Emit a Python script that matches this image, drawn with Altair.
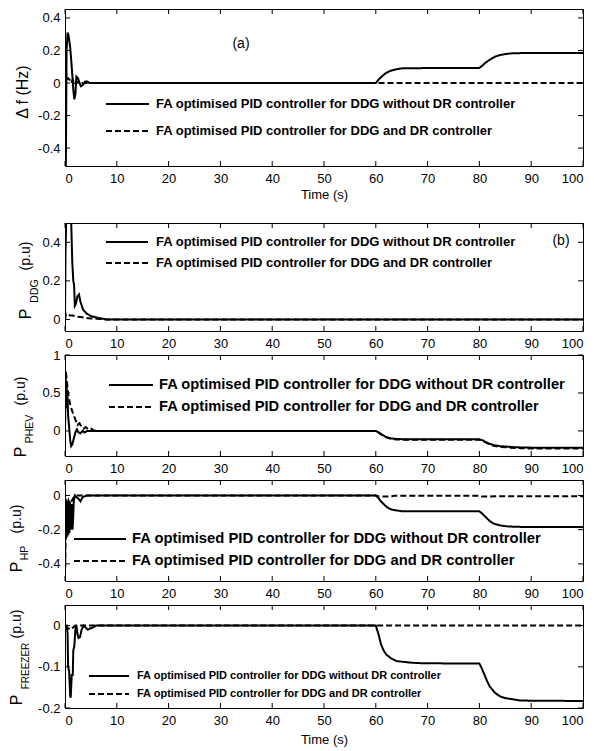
import altair as alt
import pandas as pd

SOLID = "FA optimised PID controller for DDG without DR controller"
DASH = "FA optimised PID controller for DDG and DR controller"

x_ticks = [0, 10, 20, 30, 40, 50, 60, 70, 80, 90, 100]

# ---- panel (a): delta f ----
a_t_solid = [0, 0.05, 0.15, 0.3, 0.5, 0.7, 1.0, 1.3, 1.6, 1.8, 2.0, 2.2, 2.5, 2.8, 3.1, 3.5, 3.9, 4.3, 4.7, 5.2,
             60, 60.5, 61, 61.5, 62, 62.5, 63, 64, 65, 70, 75, 80, 80.5, 81, 81.5, 82, 82.5, 83, 84, 85, 86, 88, 100]
a_solid = [0, -0.8, -0.6, 0.2, 0.31, 0.29, 0.22, 0.1, -0.04, -0.1, -0.07, 0.04, 0.03, 0.0, -0.02, -0.01, 0.01, 0.01, 0.0, 0.0,
           0.0, 0.02, 0.035, 0.05, 0.062, 0.07, 0.077, 0.085, 0.09, 0.092, 0.093, 0.093, 0.105, 0.12, 0.132, 0.143, 0.153, 0.162, 0.172, 0.178, 0.182, 0.184, 0.185]
a_t_dash = [0, 0.1, 0.3, 0.6, 0.9, 1.2, 1.5, 1.8, 2.2, 2.6, 3.0, 100]
a_dash = [0, 0.15, 0.02, 0.03, 0.02, 0.0, 0.02, -0.01, 0.01, 0.0, 0.0, 0.0]
a_yticks = [-0.4, -0.2, 0, 0.2, 0.4]

# ---- panel (b): P_DDG ----
b_t_solid = [0, 0.1, 0.3, 0.6, 0.9, 1.2, 1.4, 1.6, 1.75, 1.9, 2.1, 2.4, 2.7, 3.0, 3.5, 4.2, 5.0, 6.0, 8.0, 100]
b_solid = [0, 0.35, 0.6, 0.65, 0.6, 0.5, 0.3, 0.2, 0.18, 0.07, 0.08, 0.12, 0.13, 0.09, 0.05, 0.03, 0.018, 0.01, 0.0, 0.0]
b_t_dash = [0, 0.2, 0.6, 1.0, 1.5, 2, 3, 4, 5, 6, 7, 8, 100]
b_dash = [0, 0.03, 0.025, 0.02, 0.02, 0.016, 0.012, 0.008, 0.005, 0.003, 0.002, 0, 0]
b_yticks = [0, 0.2, 0.4]

# ---- panel (c): P_PHEV ----
c_t_solid = [0, 0.1, 0.2, 0.3, 0.4, 0.5, 0.6, 0.8, 1.0, 1.2, 1.4, 1.7, 2.0, 2.3, 2.6, 3.0, 3.4, 3.8, 4.3, 5.0,
             60, 60.5, 61, 61.5, 62, 62.5, 63, 64, 65, 70, 75, 80, 80.5, 81, 81.5, 82, 82.5, 83, 84, 85, 87, 90, 100]
c_solid = [0, 0.75, 0.5, 0.65, 0.3, 0.45, 0.2, 0.05, -0.12, -0.2, -0.18, -0.1, -0.02, 0.02, -0.02, -0.03, 0.0, -0.02, 0.0, 0.0,
           0.0, -0.02, -0.04, -0.06, -0.08, -0.09, -0.1, -0.105, -0.108, -0.11, -0.11, -0.11, -0.12, -0.14, -0.155, -0.17, -0.18, -0.19, -0.2, -0.205, -0.215, -0.22, -0.22]
c_t_dash = [0, 0.1, 0.3, 0.5, 0.7, 1.0, 1.3, 1.6, 2.0, 2.4, 2.8, 3.2, 3.6, 4.0, 4.5, 5.0, 5.5, 6.0, 7.0,
            60, 60.5, 61, 62, 63, 64, 65, 70, 80, 80.5, 81, 82, 83, 84, 86, 88, 90, 100]
c_dash = [0, 0.8, 0.7, 0.55, 0.45, 0.35, 0.28, 0.22, 0.15, 0.08, 0.1, 0.05, 0.03, 0.05, 0.02, 0.03, 0.01, 0.0, 0.0,
          0.0, -0.02, -0.045, -0.085, -0.105, -0.112, -0.115, -0.115, -0.115, -0.125, -0.145, -0.18, -0.2, -0.21, -0.22, -0.228, -0.232, -0.232]
c_yticks = [0, 0.5, 1]

# ---- panel (d): P_HP ----
d_t_solid = [0, 0.05, 0.15, 0.25, 0.35, 0.45, 0.55, 0.65, 0.75, 0.85, 0.95, 1.05, 1.15, 1.25, 1.35, 1.45, 1.55, 1.7, 1.9,
             2.2, 2.6, 3.0, 3.4, 3.8, 4.3, 5, 60, 60.5, 61, 61.5, 62, 62.5, 63, 64, 65, 70, 75, 80, 80.5, 81, 81.5,
             82, 82.5, 83, 84, 85, 86, 88, 100]
d_solid = [0, -0.25, -0.02, -0.25, -0.03, -0.24, -0.04, -0.23, -0.05, -0.22, -0.04, -0.2, -0.06, -0.18, -0.05, -0.2, -0.15, -0.03, 0.0,
           -0.01, -0.02, -0.035, -0.01, -0.005, 0.0, 0.0, 0.0, -0.015, -0.035, -0.05, -0.065, -0.075, -0.082, -0.088, -0.092, -0.093, -0.093, -0.093, -0.105, -0.12, -0.135,
           -0.15, -0.16, -0.167, -0.175, -0.18, -0.182, -0.184, -0.185]
d_t_dash = [0, 0.05, 0.2, 0.4, 0.7, 1.0, 1.5, 2, 60, 60.5, 63, 63.5, 80, 80.5, 82, 83, 100]
d_dash = [0, -0.42, -0.05, -0.1, -0.03, -0.05, -0.02, 0, 0, -0.006, -0.006, -0.002, -0.002, -0.007, -0.007, -0.005, -0.005]
d_yticks = [-0.4, -0.2, 0]

# ---- panel (e): P_FREEZER ----
e_t_solid = [0, 0.3, 0.5, 0.6, 0.8, 1.0, 1.1, 1.3, 1.5, 1.6, 1.8, 2.0, 2.2, 2.4, 2.6, 2.9, 3.2, 3.6, 4.0, 4.4, 4.8, 5.3, 6.0, 7.0,
             60, 60.5, 61, 61.5, 62, 63, 64, 66, 68, 75, 80, 80.5, 81, 81.5, 82, 83, 84, 85, 86, 88, 100]
e_solid = [0, 0.0, -0.02, -0.1, -0.11, -0.17, -0.175, -0.12, -0.12, -0.06, -0.05, -0.01, 0.0, -0.02, -0.03, -0.028, -0.01, 0.0, -0.005, -0.01, -0.007, -0.005, 0.0, 0.0,
           0.0, -0.02, -0.045, -0.06, -0.07, -0.08, -0.086, -0.089, -0.091, -0.092, -0.092, -0.105, -0.12, -0.135, -0.148, -0.163, -0.172, -0.176, -0.178, -0.182, -0.183]
e_t_dash = [0, 0.5, 1, 1.5, 2, 100]
e_dash = [0, -0.005, -0.01, -0.005, 0, 0]
e_yticks = [-0.2, -0.1, 0]

W = 518
FONT = "Liberation Sans"
LABEL_EXPR = "datum.value + ''"
ONE = pd.DataFrame({"k": [1]})


def series_df(ts, vs, td, vd):
    return pd.DataFrame({
        "t": list(ts) + list(td),
        "v": list(vs) + list(vd),
        "s": [SOLID] * len(ts) + [DASH] * len(td),
    })


def text(label, x, y, size, angle=0, weight="normal", align="center"):
    kw = dict(text=label, fontSize=size, fontWeight=weight, font=FONT, align=align,
              baseline="middle", color="black")
    if angle:
        kw["angle"] = angle
    return alt.Chart(ONE).mark_text(**kw).encode(x=alt.value(x), y=alt.value(y))


def panel(df, h, ydom, yticks, xtitle, legend, ytitle, extra=None, tpad=3):
    xaxis = alt.Axis(values=x_ticks, labelExpr=LABEL_EXPR, grid=False, ticks=False, domain=False,
                     title=xtitle if xtitle else None, labelPadding=6, titlePadding=tpad)
    yaxis = alt.Axis(values=yticks, labelExpr=LABEL_EXPR, grid=False, ticks=False, domain=False,
                     title=None, labelPadding=5)
    xs = alt.Scale(domain=[0, 100], nice=False, zero=False)
    ys = alt.Scale(domain=ydom, nice=False, zero=False)

    lines = alt.Chart(df).mark_line(clip=True, strokeWidth=2, color="black").encode(
        x=alt.X("t:Q", scale=xs, axis=xaxis),
        y=alt.Y("v:Q", scale=ys, axis=yaxis),
        strokeDash=alt.StrokeDash("s:N", scale=alt.Scale(domain=[SOLID, DASH], range=[[1, 0], [6, 3]]),
                                  legend=None),
    )
    xt = pd.DataFrame({"t": x_ticks})
    yt = pd.DataFrame({"v": yticks})
    tick_layers = [
        alt.Chart(xt).mark_rule(color="black", strokeWidth=1).encode(
            x=alt.X("t:Q", scale=xs, axis=xaxis), y=alt.value(0), y2=alt.value(5)),
        alt.Chart(xt).mark_rule(color="black", strokeWidth=1).encode(
            x=alt.X("t:Q", scale=xs, axis=xaxis), y=alt.value(h), y2=alt.value(h - 5)),
        alt.Chart(yt).mark_rule(color="black", strokeWidth=1).encode(
            y=alt.Y("v:Q", scale=ys, axis=yaxis), x=alt.value(0), x2=alt.value(5)),
        alt.Chart(yt).mark_rule(color="black", strokeWidth=1).encode(
            y=alt.Y("v:Q", scale=ys, axis=yaxis), x=alt.value(W), x2=alt.value(W - 5)),
    ]
    lx0, lx1, tx, ly1, ly2, fs = legend
    leg = [
        alt.Chart(ONE).mark_rule(color="black", strokeWidth=2).encode(
            x=alt.value(lx0), x2=alt.value(lx1), y=alt.value(ly1)),
        alt.Chart(ONE).mark_rule(color="black", strokeWidth=2, strokeDash=[6, 3]).encode(
            x=alt.value(lx0), x2=alt.value(lx1), y=alt.value(ly2)),
        text(SOLID, tx, ly1, fs, weight="bold", align="left"),
        text(DASH, tx, ly2, fs, weight="bold", align="left"),
    ]
    layers = [lines] + tick_layers + leg + ytitle + (extra or [])
    return alt.layer(*layers).properties(width=W, height=h)


SUB = 10.5
pa = panel(series_df(a_t_solid, a_solid, a_t_dash, a_dash), 157, [-0.51, 0.455], a_yticks, "Time (s)",
           (41, 84, 91, 95, 122, 13),
           [text("Δ  f  (Hz)", -42, 83, 16, angle=270)],
           [text("(a)", 176, 35, 14)])
pb = panel(series_df(b_t_solid, b_solid, b_t_dash, b_dash), 108, [-0.06, 0.5], b_yticks, None,
           (41, 83, 91, 19, 40, 13),
           [text("P", -39, 91, 16, angle=270), text("DDG", -30, 68, SUB, angle=270),
            text("(p.u)", -39, 33, 14, angle=270)],
           [text("(b)", 496, 18, 14)])
pc = panel(series_df(c_t_solid, c_solid, c_t_dash, c_dash), 101, [-0.33, 1.0], c_yticks, None,
           (44, 88, 94, 30, 52, 14.7),
           [text("P", -44, 97, 16, angle=270), text("PHEV", -35, 74, SUB, angle=270),
            text("(p.u)", -44, 36, 14, angle=270)])
pd_ = panel(series_df(d_t_solid, d_solid, d_t_dash, d_dash), 101, [-0.5, 0.09], d_yticks, None,
            (9, 61, 67, 59, 81, 14.8),
            [text("P", -48, 87, 16, angle=270), text("HP", -40, 73, SUB, angle=270),
             text("(p.u)", -48, 39, 14, angle=270)])
pe = panel(series_df(e_t_solid, e_solid, e_t_dash, e_dash), 103, [-0.2, 0.05], e_yticks, "Time (s)",
           (24, 64, 72, 71, 89, 11),
           [text("P", -48, 95, 16, angle=270), text("FREEZER", -39, 61, 10, angle=270),
            text("(p.u)", -48, 19, 14, angle=270)], tpad=6)

spacer = alt.Chart(ONE).mark_point(opacity=0).encode(x=alt.value(0), y=alt.value(0)).properties(
    width=W, height=9, view=alt.ViewBackground(stroke="transparent"))

chart = alt.vconcat(pa, spacer, pb, pc, pd_, pe, spacing=24, bounds="flush").properties(
    padding=0, background="white"
).configure_view(stroke="black", strokeWidth=1).configure_axis(
    labelFont=FONT, labelFontSize=13, labelColor="black",
    titleFont=FONT, titleFontSize=13, titleFontWeight="normal", titleColor="black",
)

chart.save("out.html", embed_options={"renderer": "svg", "actions": False})
